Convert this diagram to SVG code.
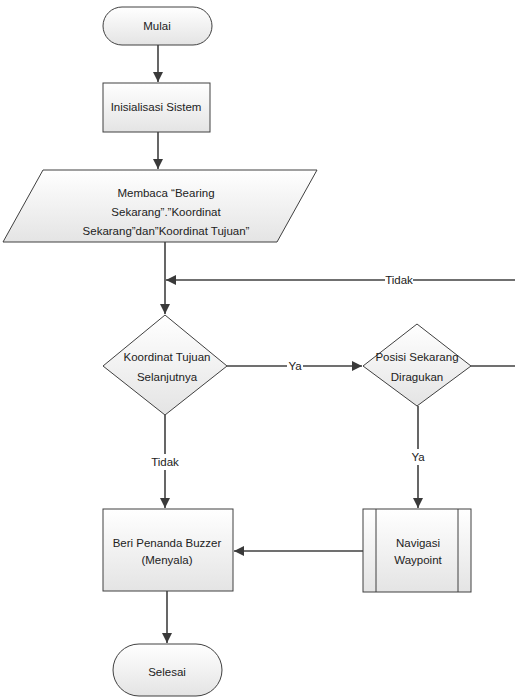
<svg xmlns="http://www.w3.org/2000/svg" width="515" height="699" viewBox="0 0 515 699">
<defs>
<linearGradient id="g" x1="0" y1="0" x2="0" y2="1">
<stop offset="0" stop-color="#ffffff"/>
<stop offset="1" stop-color="#e4e4e4"/>
</linearGradient>
<marker id="arr" viewBox="0 0 10 10" refX="10" refY="5" markerWidth="10" markerHeight="10" markerUnits="userSpaceOnUse" orient="auto">
<path d="M0,0 L10,5 L0,10 z" fill="#3a3a3a"/>
</marker>
<style>
.s{fill:url(#g);stroke:#404040;stroke-width:1}
.t{font-family:"Liberation Sans",Arial,sans-serif;font-size:11.5px;fill:#222;text-anchor:middle}
.c{fill:none;stroke:#404040;stroke-width:1.6}
.lb{fill:#fff}
</style>
</defs>
<rect width="515" height="699" fill="#fff"/>
<g id="connectors">
<path class="c" d="M158,45 V82" marker-end="url(#arr)"/>
<path class="c" d="M158,132 V169" marker-end="url(#arr)"/>
<path class="c" d="M165,242 V314" marker-end="url(#arr)"/>
<path class="c" d="M515,280 H166" marker-end="url(#arr)"/>
<path class="c" d="M471,366 H515"/>
<path class="c" d="M227,366 H362" marker-end="url(#arr)"/>
<path class="c" d="M165,415 V508" marker-end="url(#arr)"/>
<path class="c" d="M418,406 V508" marker-end="url(#arr)"/>
<path class="c" d="M363,551 H234" marker-end="url(#arr)"/>
<path class="c" d="M167,591 V643" marker-end="url(#arr)"/>
<rect class="lb" x="385" y="273" width="28" height="14"/>
<text class="t" x="399" y="284">Tidak</text>
<rect class="lb" x="287" y="359" width="16" height="14"/>
<text class="t" x="295" y="370">Ya</text>
<rect class="lb" x="150" y="454" width="30" height="16"/>
<text class="t" x="165" y="466">Tidak</text>
<rect class="lb" x="409" y="449" width="18" height="16"/>
<text class="t" x="418" y="461">Ya</text>
</g>
<g id="mulai">
<rect class="s" x="103" y="7" width="109" height="38" rx="19"/>
<text class="t" x="157" y="30">Mulai</text>
</g>
<g id="inisialisasi">
<rect class="s" x="103" y="83" width="107" height="49"/>
<text class="t" x="156" y="111">Inisialisasi Sistem</text>
</g>
<g id="membaca">
<polygon class="s" points="43,170 317,170 277,242 3,242"/>
<text class="t" x="166" y="197">Membaca “Bearing</text>
<text class="t" x="166" y="216">Sekarang”.”Koordinat</text>
<text class="t" x="166" y="235">Sekarang”dan”Koordinat Tujuan”</text>
</g>
<g id="koordinat">
<polygon class="s" points="165,315 227,366 165,415 103,366"/>
<text class="t" x="167" y="361">Koordinat Tujuan</text>
<text class="t" x="167" y="381">Selanjutnya</text>
</g>
<g id="posisi">
<polygon class="s" points="417,324 471,366 417,406 363,366"/>
<text class="t" x="417" y="361">Posisi Sekarang</text>
<text class="t" x="417" y="381">Diragukan</text>
</g>
<g id="buzzer">
<rect class="s" x="103" y="509" width="130" height="82"/>
<text class="t" x="167" y="547">Beri Penanda Buzzer</text>
<text class="t" x="167" y="564">(Menyala)</text>
</g>
<g id="navigasi">
<rect class="s" x="363" y="509" width="108" height="83"/>
<line x1="376" y1="509" x2="376" y2="592" stroke="#404040"/>
<line x1="458" y1="509" x2="458" y2="592" stroke="#404040"/>
<text class="t" x="418" y="547">Navigasi</text>
<text class="t" x="418" y="564">Waypoint</text>
</g>
<g id="selesai">
<rect class="s" x="113" y="644" width="109" height="52" rx="26"/>
<text class="t" x="167" y="676">Selesai</text>
</g>
</svg>
